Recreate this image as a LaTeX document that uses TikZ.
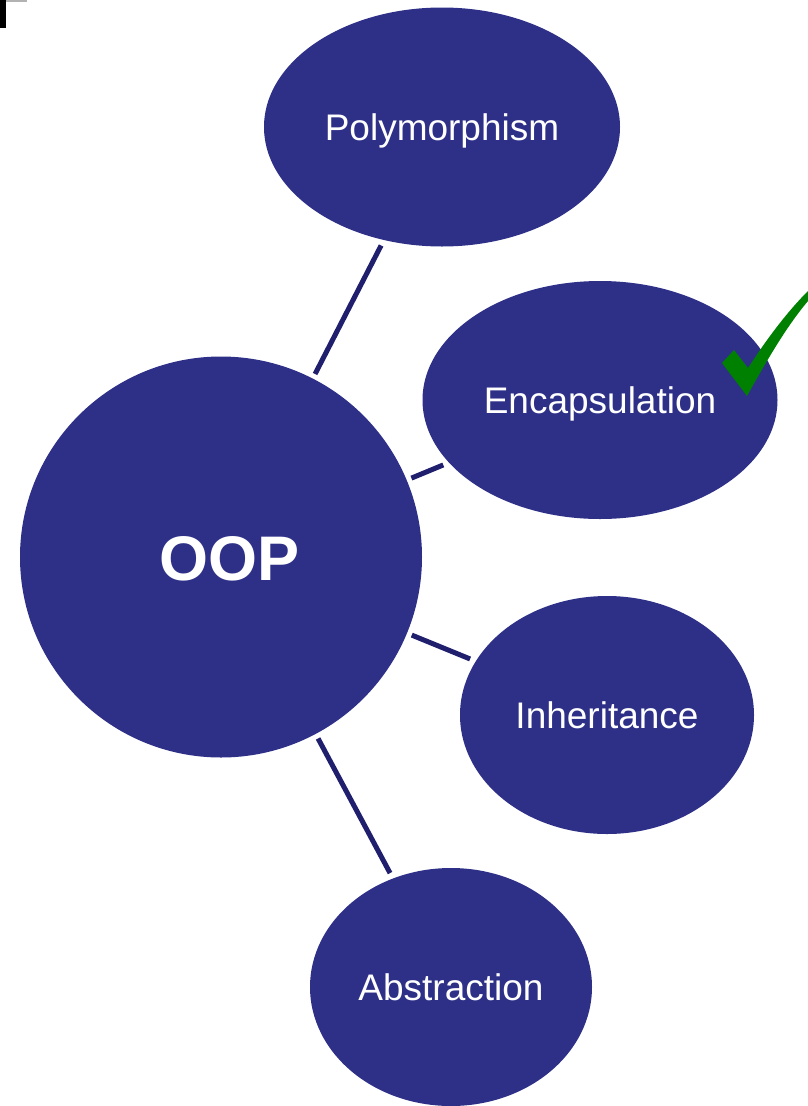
\documentclass[tikz,border=0pt]{standalone}
\usepackage{fontspec}
\setmainfont{Liberation Sans}
\usetikzlibrary{shapes.geometric}
\definecolor{oopblue}{HTML}{2E3088}
\definecolor{linkblue}{HTML}{1F1F6E}
\definecolor{checkgreen}{HTML}{008000}
\begin{document}
\begin{tikzpicture}[x=1pt,y=-1pt]
\tikzset{
    bubble/.style={ellipse,fill=oopblue,text=white,inner sep=0pt,text depth=0pt,
        font=\fontsize{37}{40}\selectfont},
    link/.style={draw=linkblue,line width=5pt,shorten <=5pt,shorten >=6pt}
}
\useasboundingbox (0,0) rectangle (808,1106);
\fill[black] (0,0) rectangle (6,28);
\draw[gray!60,line width=1.5pt] (6,0.75) -- (27,0.75);

\node[bubble,minimum width=402pt,minimum height=401pt,
      font=\fontsize{63}{66}\selectfont\bfseries] (oop) at (221,557) {\hspace*{17pt}\raisebox{-3pt}{OOP}};
\node[bubble,minimum width=356pt,minimum height=239pt] (poly) at (442,127) {Polymorphism};
\node[bubble,minimum width=355pt,minimum height=238pt] (encap) at (600,400) {Encapsulation};
\node[bubble,minimum width=294pt,minimum height=238pt] (inher) at (607,715) {Inheritance};
\node[bubble,minimum width=282pt,minimum height=238pt] (abstr) at (451,987) {Abstraction};

\draw[link] (oop) -- (poly);
\draw[link] (oop) -- (encap);
\draw[link] (oop) -- (inher);
\draw[link] (oop) -- (abstr);

% check mark
\fill[checkgreen] (722,363) -- (734,350) -- (748,368)
    .. controls (770,334) and (790,309) .. (808,291) -- (808,301)
    .. controls (786,327) and (766,362) .. (747,396) -- cycle;
\end{tikzpicture}
\end{document}
